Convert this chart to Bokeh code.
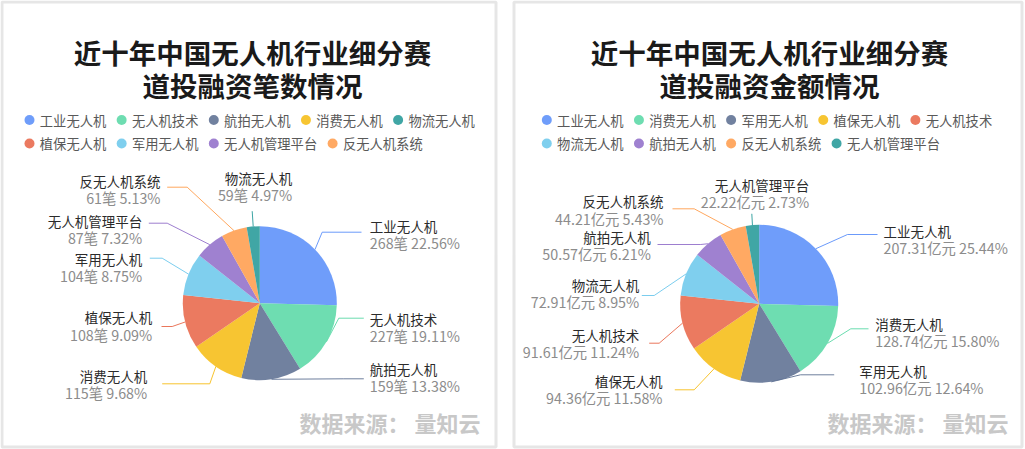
import math
from bokeh.plotting import figure
from bokeh.models import Range1d, ColumnDataSource
from bokeh.core.properties import value
from bokeh.embed import file_html
from bokeh.resources import INLINE

# ---------------- data ----------------
count_title = ["近十年中国无人机行业细分赛", "道投融资笔数情况"]
count_categories = ["工业无人机", "无人机技术", "航拍无人机", "消费无人机", "物流无人机",
                    "植保无人机", "军用无人机", "无人机管理平台", "反无人机系统"]
count_values = [268, 227, 159, 115, 59, 108, 104, 87, 61]
count_pcts = ["22.56%", "19.11%", "13.38%", "9.68%", "4.97%", "9.09%", "8.75%", "7.32%", "5.13%"]

amount_title = ["近十年中国无人机行业细分赛", "道投融资金额情况"]
amount_categories = ["工业无人机", "消费无人机", "军用无人机", "植保无人机", "无人机技术",
                     "物流无人机", "航拍无人机", "反无人机系统", "无人机管理平台"]
amount_values = [207.31, 128.74, 102.96, 94.36, 91.61, 72.91, 50.57, 44.21, 22.22]
amount_pcts = ["25.44%", "15.80%", "12.64%", "11.58%", "11.24%", "8.95%", "6.21%", "5.43%", "2.73%"]

source_text = "数据来源： 量知云"

# ---------------- style / layout ----------------
FONT = "Noto Sans CJK SC"
PALETTE = ["#5B8FF9", "#5AD8A6", "#5D7092", "#F6BD16", "#E8684A",
           "#6DC8EC", "#9270CA", "#FF9D4D", "#269A99"]

W, H = 1025, 449
def fx(x):  # page pixel x -> data x
    return x
def fy(y):  # page pixel y -> data y
    return H - y

p = figure(width=W, height=H, x_range=Range1d(0, W), y_range=Range1d(0, H),
           output_backend="svg", toolbar_location=None,
           x_axis_type=None, y_axis_type=None, min_border=0,
           outline_line_color=None)
p.background_fill_color = "white"
p.border_fill_color = "white"

# panel borders
p.quad(left=[1.5, 513.5], right=[495.5, 1021.5], bottom=[fy(446.5)] * 2, top=[fy(1.5)] * 2,
       fill_color=None, line_color="#e6e6e6", line_width=3)

def draw_panel(title, cats, nums, pcts, fmt, angle_vals, panel_cx, legend_x0,
               cx, cy, r, text_x, align, name_y, knees, end_x):
    # rank order (pie order, descending by value)
    order = sorted(range(len(nums)), key=lambda i: -nums[i])
    color_of = {order[k]: PALETTE[k] for k in range(len(order))}
    # pie slices (sizes as drawn in the reference, in rank order)
    tot = sum(angle_vals)
    cum = 0.0
    starts, ends, mids, cols = [], [], [], []
    for k in range(len(order)):
        v = angle_vals[k]
        a0 = cum / tot
        cum += v
        a1 = cum / tot
        starts.append(math.pi / 2 - 2 * math.pi * a0)
        ends.append(math.pi / 2 - 2 * math.pi * a1)
        mids.append(math.pi / 2 - 2 * math.pi * (a0 + a1) / 2)
        cols.append(PALETTE[k])
    p.wedge(x=fx(cx), y=fy(cy), radius=r, start_angle=starts, end_angle=ends,
            direction="clock", fill_color=cols, fill_alpha=0.88, line_color=None)

    # leader lines
    xs, ys = [], []
    for k in range(len(order)):
        sx = fx(cx) + r * math.cos(mids[k])
        sy = fy(cy) + r * math.sin(mids[k])
        kx, ky = knees[k]
        xs.append([sx, fx(kx), fx(end_x[k])])
        ys.append([sy, fy(ky), fy(ky)])
    p.multi_line(xs=xs, ys=ys, line_color=cols, line_width=1, line_alpha=0.9)

    # labels
    for side in ("left", "right"):
        idx = [k for k in range(len(order)) if align[k] == side]
        src = ColumnDataSource(dict(
            x=[fx(text_x[k]) for k in idx],
            yn=[fy(name_y[k]) for k in idx],
            yv=[fy(name_y[k] + 17) for k in idx],
            name=[cats[order[k]] for k in idx],
            val=[fmt(nums[order[k]]) + " " + pcts[order[k]] for k in idx]))
        p.text(x="x", y="yn", text="name", source=src, text_align=side,
               text_baseline="middle", text_font=value(FONT),
               text_font_size="13.5px", text_color="#2b2b2b")
        p.text(x="x", y="yv", text="val", source=src, text_align=side,
               text_baseline="middle", text_font=value(FONT),
               text_font_size="14.3px", text_color="#8c8c8c")

    # title
    p.text(x=[fx(panel_cx)] * 2, y=[fy(51.7), fy(84)], text=title,
           text_align="center", text_baseline="middle", text_font=value(FONT),
           text_font_size="27.5px", text_font_style="bold", text_color="#1a1a1a")

    # legend (data order, wrapping after 5 items)
    lx, ly, lc, lt = [], [], [], []
    x = legend_x0
    for i, c in enumerate(cats):
        if i == 5:
            x = legend_x0
        row_y = 119.5 if i < 5 else 143
        lx.append(fx(x)); ly.append(fy(row_y)); lc.append(color_of[i]); lt.append(c)
        x += len(c) * 13.33 + 25.5
    p.scatter(x=lx, y=ly, size=10, marker="circle", fill_color=lc, fill_alpha=0.88, line_color=None)
    p.text(x=[v + 10.3 for v in lx], y=ly, text=lt, text_align="left", text_baseline="middle",
           text_font=value(FONT), text_font_size="13.3px", text_color="#595959")

# left panel: the reference draws its slices at the amount shares (rank order)
draw_panel(count_title, count_categories, count_values, count_pcts, lambda n: f"{n}笔",
           sorted(amount_values, reverse=True), 252, 29, 259.3, 302.7, 77,
           [369.3, 369.3, 369.3, 146.7, 151.7, 141.7, 141.7, 160.0, 291.7],
           ["left", "left", "left", "right", "right", "right", "right", "right", "right"],
           [225, 318.3, 368.3, 375, 316.7, 258.3, 220, 180, 177.3],
           [(321.7, 231.7), (338.3, 317.7), (343.3, 378.3), (209.3, 383.3), (171.7, 326),
            (161.7, 257.7), (166.7, 222.7), (186.7, 186.7), (251.7, 210.7)],
           [361, 363.3, 363.3, 161.7, 161, 149.3, 148.3, 166.7, 251.7])

draw_panel(amount_title, amount_categories, amount_values, amount_pcts, lambda v: f"{v:.2f}亿元",
           sorted(amount_values, reverse=True), 769, 546.3, 758.7, 303.3, 79,
           [883, 874.7, 858.7, 662, 638.7, 638.7, 650.3, 663, 808.7],
           ["left", "left", "left", "right", "right", "right", "right", "right", "right"],
           [230, 323.3, 370, 380, 334, 284, 236, 200.7, 184],
           [(847, 234), (850.3, 328.3), (800, 374.3), (693.7, 389.3), (658.7, 342.7),
            (653.7, 295), (700.3, 244), (693.7, 208.3), (751.3, 213.3)],
           [877, 868, 833.7, 674.3, 648.7, 641.3, 657, 672, 751.3])

# source notes
p.text(x=[fx(480), fx(1008)], y=[fy(421.7), fy(421.7)], text=[source_text, source_text],
       text_align="right", text_baseline="middle", text_font=value(FONT),
       text_font_size="22px", text_font_style="bold", text_color="#c8c8c8")

open("out.html", "w").write(file_html(p, INLINE))
